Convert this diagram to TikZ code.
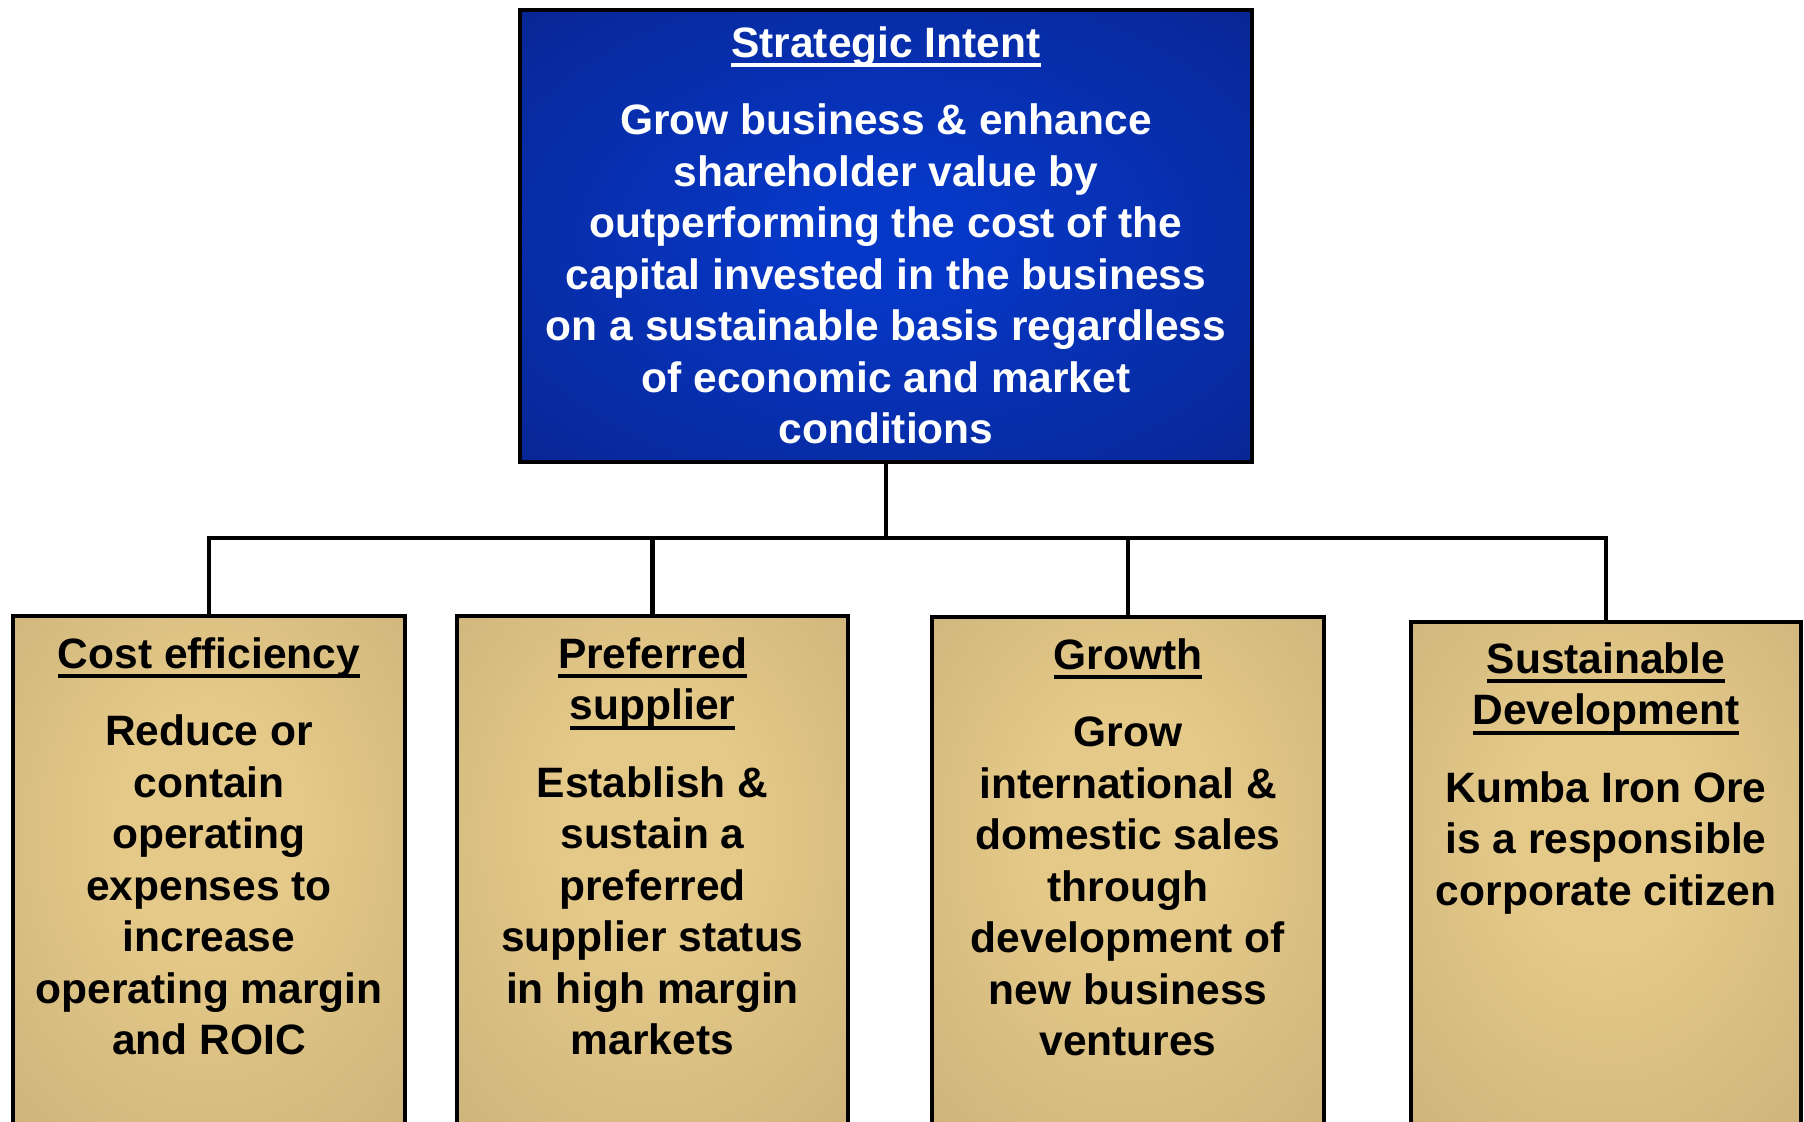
\documentclass[tikz,border=0pt]{standalone}
\usepackage{fontspec}
\setmainfont{Liberation Sans}
\definecolor{navyedge}{RGB}{9,30,125}
\definecolor{navycenter}{RGB}{6,56,200}
\definecolor{goldedge}{RGB}{196,171,115}
\definecolor{goldcenter}{RGB}{228,201,137}
\pgfdeclareradialshading{goldshade}{\pgfpoint{0bp}{6bp}}{color(0bp)=(goldcenter); color(12bp)=(goldcenter); color(48bp)=(goldedge); color(60bp)=(goldedge)}
\pgfdeclareradialshading{blueshade}{\pgfpointorigin}{color(0bp)=(navycenter); color(5bp)=(navycenter); color(50bp)=(navyedge); color(60bp)=(navyedge)}
\newcommand\myul[1]{\setbox0\hbox{#1}\rlap{\rule[-5pt]{\wd0}{2pt}}\box0}
\newcommand\stack[1]{\vtop{\baselineskip=25.75pt\lineskiplimit=-20pt\lineskip=0pt\halign{\hfil##\hfil\cr#1\crcr}}}
\newcommand\gap{\noalign{\vskip 13pt}}
\tikzset{
  goldbox/.style={draw=black, line width=2pt, shading=goldshade, anchor=north, inner sep=0pt},
  bluebox/.style={draw=black, line width=2pt, shading=blueshade, anchor=north, inner sep=0pt},
  txt/.style={inner sep=0pt, anchor=base, font=\fontsize{21.25pt}{25.75pt}\selectfont\bfseries},
  conn/.style={draw=black, line width=2.3pt}
}
\begin{document}
\begin{tikzpicture}[x=0.5pt, y=-0.5pt]
\useasboundingbox (0,0) rectangle (1804,1121);
\clip (0,0) rectangle (1804,1121);
\fill[white] (0,0) rectangle (1804,1121);
% boxes
\node[bluebox, minimum width=366pt, minimum height=226pt] (top) at (886,8) {};
\node[goldbox, minimum width=196pt, minimum height=258pt] (cost) at (209,614) {};
\node[goldbox, minimum width=195.5pt, minimum height=258pt] (pref) at (652.5,614) {};
\node[goldbox, minimum width=196pt, minimum height=258pt] (grow) at (1128,615) {};
\node[goldbox, minimum width=195pt, minimum height=256pt] (sust) at (1606,620) {};
% connectors
\coordinate (bar) at (886,538);
\draw[conn] (top.south) -- (bar);
\draw[conn] (cost.north) |- (bar);
\draw[conn] (pref.north) |- (bar);
\draw[conn] (grow.north) |- (bar);
\draw[conn] (sust.north) |- (bar);
% texts
\node[txt, text=white] (topT) at (886,57) {\stack{\myul{Strategic Intent}\cr\gap
Grow business \& enhance\cr
shareholder value by\cr
outperforming the cost of the\cr
capital invested in the business\cr
on a sustainable basis regardless\cr
of economic and market\cr
conditions}};
\node[txt] (costT) at (209,668) {\stack{\myul{Cost efficiency}\cr\gap
Reduce or\cr
contain\cr
operating\cr
expenses to\cr
increase\cr
operating margin\cr
and ROIC}};
\node[txt] (prefT) at (652.5,668) {\stack{\myul{Preferred}\cr
\myul{supplier}\cr\gap
Establish \&\cr
sustain a\cr
preferred\cr
supplier status\cr
in high margin\cr
markets}};
\node[txt] (growT) at (1128,669) {\stack{\myul{Growth}\cr\gap
Grow\cr
international \&\cr
domestic sales\cr
through\cr
development of\cr
new business\cr
ventures}};
\node[txt] (sustT) at (1606,673) {\stack{\myul{Sustainable}\cr
\myul{Development}\cr\gap
Kumba Iron Ore\cr
is a responsible\cr
corporate citizen}};
\end{tikzpicture}
\end{document}
